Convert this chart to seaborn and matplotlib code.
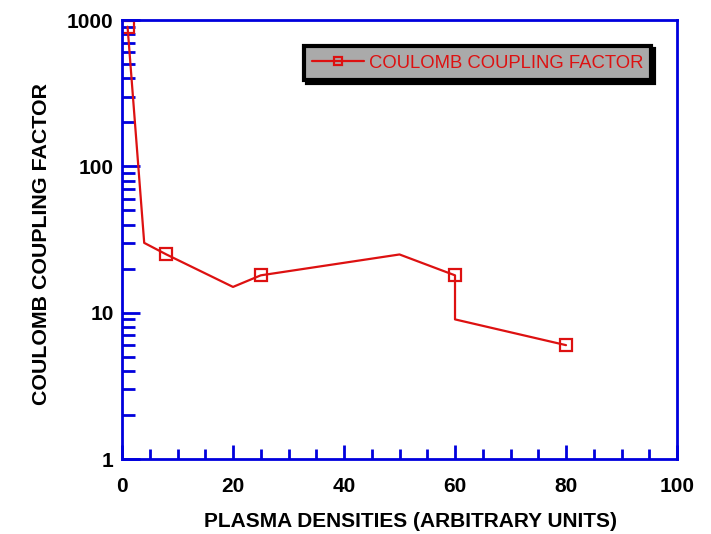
import matplotlib
matplotlib.use("Agg")
import matplotlib.pyplot as plt
import seaborn as sns
import pandas as pd
from matplotlib.ticker import LogLocator, MultipleLocator, NullFormatter, FixedLocator

# Coulomb coupling factor versus plasma density
density = [1, 4, 8, 20, 25, 50, 60, 60, 80]
coupling = [900, 30, 25, 15, 18, 25, 18, 9, 6]
marked = [0, 2, 4, 6, 8]

x_ticks = [0, 20, 40, 60, 80, 100]
y_ticks = [1, 10, 100, 1000]
y_tick_labels = ["1", "10", "100", "1000"]

series_name = "COULOMB COUPLING FACTOR"
x_title = "PLASMA DENSITIES (ARBITRARY UNITS)"
y_title = "COULOMB COUPLING FACTOR"

sns.set_theme(style="white")
plt.rcParams["font.family"] = ["Liberation Sans", "DejaVu Sans"]

df = pd.DataFrame({"density": density, "coupling": coupling})

fig = plt.figure(figsize=(7.11, 5.34), dpi=100)
ax = fig.add_axes([0.1716, 0.1404, 0.7806, 0.8221])

red = "#dd1111"
blue = "#0000dd"

sns.lineplot(data=df, x="density", y="coupling", ax=ax, color=red, linewidth=1.6,
             marker="s", markersize=8, markerfacecolor="none", markeredgecolor=red,
             markeredgewidth=1.6, markevery=marked, sort=False, estimator=None,
             label=series_name)

ax.set_yscale("log")
ax.set_xlim(0, 100)
ax.set_ylim(1, 1000)

ax.xaxis.set_major_locator(FixedLocator(x_ticks))
ax.xaxis.set_minor_locator(MultipleLocator(5))
ax.set_xticklabels([str(t) for t in x_ticks])
ax.yaxis.set_major_locator(FixedLocator(y_ticks))
ax.set_yticklabels(y_tick_labels)
ax.yaxis.set_minor_locator(LogLocator(base=10, subs=range(2, 10)))
ax.yaxis.set_minor_formatter(NullFormatter())

for s in ax.spines.values():
    s.set_color(blue)
    s.set_linewidth(2)

ax.tick_params(which="both", direction="in", colors=blue, width=2,
               top=False, right=False, left=True, bottom=True)
ax.tick_params(axis="x", which="major", length=10, pad=13,
               labelcolor="black", labelsize=15)
ax.tick_params(axis="x", which="minor", length=7)
ax.tick_params(axis="y", which="major", length=13, pad=6,
               labelcolor="black", labelsize=15)
ax.tick_params(axis="y", which="minor", length=9)
for lab in ax.get_xticklabels() + ax.get_yticklabels():
    lab.set_fontweight("bold")

ax.set_xlabel(x_title, fontsize=15, fontweight="bold", color="black")
ax.set_ylabel(y_title, fontsize=15.4, fontweight="bold", color="black")
ax.xaxis.set_label_coords(0.52, -0.12)
ax.yaxis.set_label_coords(-0.128, 0.49)

leg = ax.legend(loc="center", bbox_to_anchor=(0.641, 0.902), fontsize=13.3,
                frameon=True, fancybox=False, shadow={"color": "black", "alpha": 1},
                handlelength=2.8, borderpad=0.45, borderaxespad=0,
                handletextpad=0.25, markerscale=0.75)
frame = leg.get_frame()
frame.set_facecolor("#aaaaaa")
frame.set_edgecolor("black")
frame.set_linewidth(3)
frame.set_alpha(1)
for t in leg.get_texts():
    t.set_color(red)

ax.grid(False)
fig.savefig("out.png", dpi=100)
